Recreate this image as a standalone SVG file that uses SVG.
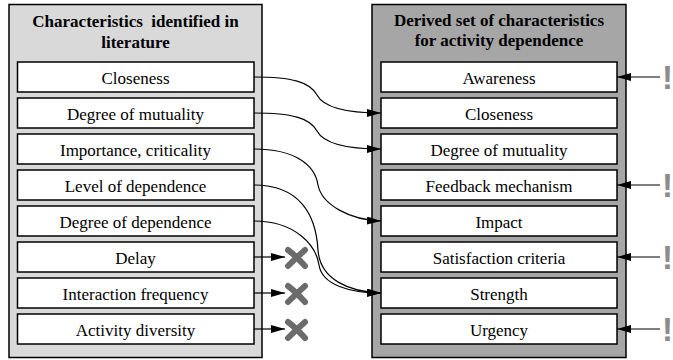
<svg xmlns="http://www.w3.org/2000/svg" width="673" height="360" viewBox="0 0 673 360">
<defs>
<style>
.panel{stroke:#000;stroke-width:1.5}
.box{fill:#fff;stroke:#000;stroke-width:1.5}
.lbl{font-family:'Liberation Serif','DejaVu Serif',serif;font-size:17px;text-anchor:middle;fill:#000}
.ttl{font-family:'Liberation Serif','DejaVu Serif',serif;font-size:17px;font-weight:bold;text-anchor:middle;fill:#000;white-space:pre}
.con{fill:none;stroke:#000;stroke-width:1.2}
.cross{fill:none;stroke:#6b6b6b;stroke-width:6;stroke-linecap:round}
.excl{font-family:'Liberation Sans',Arial,sans-serif;font-size:33px;font-weight:bold;fill:#8c8c8c}
</style>
<marker id="ah" markerUnits="userSpaceOnUse" markerWidth="14" markerHeight="8" refX="14" refY="4" orient="auto">
<path d="M0,0 L14,4 L0,8 Z" fill="#000"/>
</marker>
</defs>

<g id="left-panel">
<rect class="panel" x="9" y="4.5" width="253" height="353" fill="#d9d9d9"/>
<text class="ttl" x="135.5" y="27" xml:space="preserve">Characteristics  identified in</text>
<text class="ttl" x="135.5" y="48">literature</text>
</g>
<g id="l-closeness"><rect class="box" x="17.5" y="62" width="236.5" height="30"/><text class="lbl" x="135.5" y="83.5">Closeness</text></g>
<g id="l-mutuality"><rect class="box" x="17.5" y="98" width="236.5" height="30"/><text class="lbl" x="135.5" y="119.5">Degree of mutuality</text></g>
<g id="l-importance"><rect class="box" x="17.5" y="134" width="236.5" height="30"/><text class="lbl" x="135.5" y="155.5">Importance, criticality</text></g>
<g id="l-level"><rect class="box" x="17.5" y="170" width="236.5" height="30"/><text class="lbl" x="135.5" y="191.5">Level of dependence</text></g>
<g id="l-degree"><rect class="box" x="17.5" y="206" width="236.5" height="30"/><text class="lbl" x="135.5" y="227.5">Degree of dependence</text></g>
<g id="l-delay"><rect class="box" x="17.5" y="242" width="236.5" height="30"/><text class="lbl" x="135.5" y="263.5">Delay</text></g>
<g id="l-interaction"><rect class="box" x="17.5" y="278" width="236.5" height="30"/><text class="lbl" x="135.5" y="299.5">Interaction frequency</text></g>
<g id="l-diversity"><rect class="box" x="17.5" y="314" width="236.5" height="30"/><text class="lbl" x="135.5" y="335.5">Activity diversity</text></g>

<g id="right-panel">
<rect class="panel" x="372" y="4.5" width="254" height="353" fill="#a6a6a6"/>
<text class="ttl" x="499" y="26">Derived set of characteristics</text>
<text class="ttl" x="499" y="46">for activity dependence</text>
</g>
<g id="r-awareness"><rect class="box" x="381" y="62" width="236" height="30"/><text class="lbl" x="499" y="83.5">Awareness</text></g>
<g id="r-closeness"><rect class="box" x="381" y="98" width="236" height="30"/><text class="lbl" x="499" y="119.5">Closeness</text></g>
<g id="r-mutuality"><rect class="box" x="381" y="134" width="236" height="30"/><text class="lbl" x="499" y="155.5">Degree of mutuality</text></g>
<g id="r-feedback"><rect class="box" x="381" y="170" width="236" height="30"/><text class="lbl" x="499" y="191.5">Feedback mechanism</text></g>
<g id="r-impact"><rect class="box" x="381" y="206" width="236" height="30"/><text class="lbl" x="499" y="227.5">Impact</text></g>
<g id="r-satisfaction"><rect class="box" x="381" y="242" width="236" height="30"/><text class="lbl" x="499" y="263.5">Satisfaction criteria</text></g>
<g id="r-strength"><rect class="box" x="381" y="278" width="236" height="30"/><text class="lbl" x="499" y="299.5">Strength</text></g>
<g id="r-urgency"><rect class="box" x="381" y="314" width="236" height="30"/><text class="lbl" x="499" y="335.5">Urgency</text></g>

<g id="connectors">
<path class="con" marker-end="url(#ah)" d="M254,77 C292,77 310,82 317,95 C324,108 350,113 381,113"/>
<path class="con" marker-end="url(#ah)" d="M254,113 C292,113 310,118 317,131 C324,144 350,149 381,149"/>
<path class="con" marker-end="url(#ah)" d="M254,149 C295,149 315,165 318,185 C322,205 350,220 381,221"/>
<path class="con" marker-end="url(#ah)" d="M254,185 C300,185 316,215 318,250 C320,280 350,292 381,293"/>
<path class="con" marker-end="url(#ah)" d="M254,221 C295,221 316,245 319,265 C322,285 350,293 381,293"/>
<path class="con" marker-end="url(#ah)" d="M254,257 L285,257"/>
<path class="con" marker-end="url(#ah)" d="M254,293 L285,293"/>
<path class="con" marker-end="url(#ah)" d="M254,329 L285,329"/>
<path class="con" marker-end="url(#ah)" d="M660,77 L617,77"/>
<path class="con" marker-end="url(#ah)" d="M660,185 L617,185"/>
<path class="con" marker-end="url(#ah)" d="M660,257 L617,257"/>
<path class="con" marker-end="url(#ah)" d="M660,329 L617,329"/>
</g>

<g id="crosses">
<path class="cross" d="M288,250 Q296,256 305,266 M288,266 Q296,258 305,250"/>
<path class="cross" d="M288,286 Q296,292 305,302 M288,302 Q296,294 305,286"/>
<path class="cross" d="M288,322 Q296,328 305,338 M288,338 Q296,330 305,322"/>
</g>

<g id="marks">
<text class="excl" x="662" y="89">!</text>
<text class="excl" x="662" y="197">!</text>
<text class="excl" x="662" y="269">!</text>
<text class="excl" x="662" y="341">!</text>
</g>
</svg>
